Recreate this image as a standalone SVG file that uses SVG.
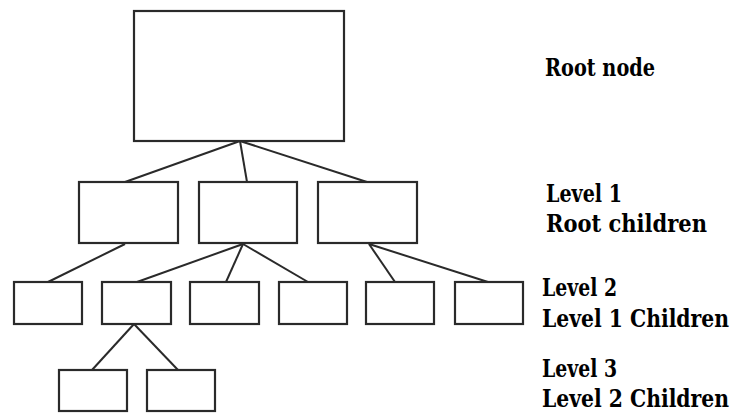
<svg xmlns="http://www.w3.org/2000/svg" width="736" height="414" viewBox="0 0 736 414">
<style>
.box{fill:#fff;stroke:#2a2a2a;stroke-width:2.2}
.ln{stroke:#2a2a2a;stroke-width:2;fill:none}
.lbl{font-family:"DejaVu Serif","Liberation Serif",serif;font-weight:bold;font-size:24px;fill:#000}
</style>
<rect width="736" height="414" fill="#fff"/>
<g id="connectors">
<line class="ln" x1="240" y1="141" x2="125" y2="182"/>
<line class="ln" x1="240" y1="141" x2="247" y2="182"/>
<line class="ln" x1="240" y1="141" x2="367" y2="182"/>
<line class="ln" x1="125" y1="244" x2="48" y2="282"/>
<line class="ln" x1="243" y1="244" x2="137" y2="282"/>
<line class="ln" x1="243" y1="244" x2="226" y2="282"/>
<line class="ln" x1="243" y1="244" x2="308" y2="282"/>
<line class="ln" x1="369" y1="244" x2="395" y2="282"/>
<line class="ln" x1="369" y1="244" x2="488" y2="282"/>
<line class="ln" x1="134" y1="324" x2="92" y2="370"/>
<line class="ln" x1="134" y1="324" x2="178" y2="370"/>
</g>
<g id="root"><rect class="box" x="134" y="11" width="210" height="130"/></g>
<g id="l1a"><rect class="box" x="79" y="182" width="99" height="61"/></g>
<g id="l1b"><rect class="box" x="199" y="182" width="98" height="61"/></g>
<g id="l1c"><rect class="box" x="318" y="182" width="99" height="61"/></g>
<g id="l2a"><rect class="box" x="14" y="282" width="68" height="42"/></g>
<g id="l2b"><rect class="box" x="102" y="282" width="69" height="42"/></g>
<g id="l2c"><rect class="box" x="190" y="282" width="69" height="42"/></g>
<g id="l2d"><rect class="box" x="279" y="282" width="68" height="42"/></g>
<g id="l2e"><rect class="box" x="366" y="282" width="68" height="42"/></g>
<g id="l2f"><rect class="box" x="455" y="282" width="68" height="42"/></g>
<g id="l3a"><rect class="box" x="59" y="370" width="68" height="41"/></g>
<g id="l3b"><rect class="box" x="147" y="370" width="68" height="41"/></g>
<g id="labels">
<text class="lbl" x="545" y="76" textLength="110" lengthAdjust="spacingAndGlyphs">Root node</text>
<text class="lbl" x="546" y="202" textLength="76" lengthAdjust="spacingAndGlyphs">Level 1</text>
<text class="lbl" x="546" y="232" textLength="161" lengthAdjust="spacingAndGlyphs">Root children</text>
<text class="lbl" x="542" y="296" textLength="75" lengthAdjust="spacingAndGlyphs">Level 2</text>
<text class="lbl" x="542" y="327" textLength="187" lengthAdjust="spacingAndGlyphs">Level 1 Children</text>
<text class="lbl" x="542" y="377" textLength="75" lengthAdjust="spacingAndGlyphs">Level 3</text>
<text class="lbl" x="542" y="407" textLength="187" lengthAdjust="spacingAndGlyphs">Level 2 Children</text>
</g>
</svg>
